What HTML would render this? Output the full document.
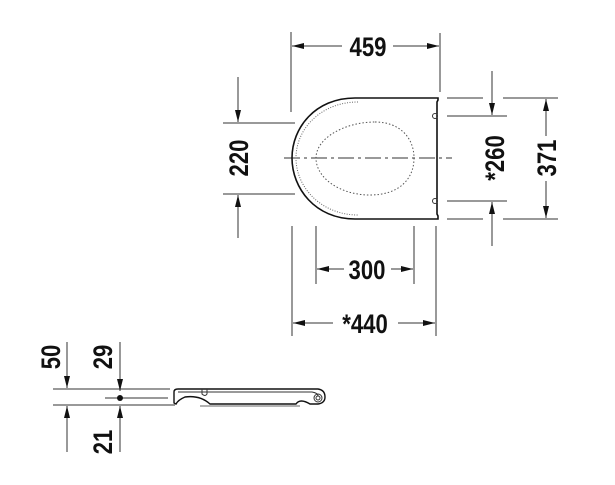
<!DOCTYPE html>
<html><head><meta charset="utf-8"><style>
html,body{margin:0;padding:0;background:#fff}
svg{display:block}
text{font-family:"Liberation Sans",sans-serif;font-weight:bold;font-size:27px;fill:#111}
</style></head><body>
<svg width="615" height="485" viewBox="0 0 615 485" xmlns="http://www.w3.org/2000/svg">
<defs>
<marker id="a" viewBox="0 0 12 6" refX="12" refY="3" markerWidth="12" markerHeight="6" markerUnits="userSpaceOnUse" orient="auto"><path d="M0,0L12,3L0,6z" fill="#111"/></marker>
</defs>
<g stroke="#333" stroke-width="1" fill="none">
<line x1="291" y1="32" x2="291" y2="112"/>
<line x1="440" y1="33" x2="440" y2="92"/>
<line x1="342" y1="46" x2="292" y2="46" marker-end="url(#a)"/>
<line x1="393" y1="46" x2="439" y2="46" marker-end="url(#a)"/>
<line x1="223" y1="123" x2="295" y2="123"/>
<line x1="223" y1="194" x2="295" y2="194"/>
<line x1="238" y1="77" x2="238" y2="122" marker-end="url(#a)"/>
<line x1="238" y1="238" x2="238" y2="195" marker-end="url(#a)"/>
<line x1="447" y1="116" x2="507" y2="116"/>
<line x1="447" y1="201" x2="507" y2="201"/>
<line x1="492" y1="71" x2="492" y2="115" marker-end="url(#a)"/>
<line x1="492" y1="246" x2="492" y2="202" marker-end="url(#a)"/>
<line x1="447" y1="98" x2="483" y2="98"/><line x1="503" y1="98" x2="558" y2="98"/>
<line x1="447" y1="219" x2="483" y2="219"/><line x1="503" y1="219" x2="558" y2="219"/>
<line x1="546" y1="136" x2="546" y2="99" marker-end="url(#a)"/>
<line x1="546" y1="181" x2="546" y2="218" marker-end="url(#a)"/>
<line x1="316" y1="226" x2="316" y2="284"/>
<line x1="414" y1="226" x2="414" y2="284"/>
<line x1="344" y1="269" x2="317" y2="269" marker-end="url(#a)"/>
<line x1="391" y1="269" x2="413" y2="269" marker-end="url(#a)"/>
<line x1="292" y1="226" x2="292" y2="336"/>
<line x1="436" y1="226" x2="436" y2="336"/>
<line x1="333" y1="323" x2="293" y2="323" marker-end="url(#a)"/>
<line x1="398" y1="323" x2="435" y2="323" marker-end="url(#a)"/>
<line x1="284" y1="158" x2="452" y2="158" stroke-dasharray="16,4,3,4"/>
<path d="M438,98 L355,98 C315,98 292,128 292,158 C292,188 315,219 355,219 L438,219 L438,216 L437,214 L437,102 L438,100Z" stroke="#111" stroke-width="1.6"/>
<path d="M358,102 C322,102 296,128 296,158 C296,188 322,215 358,215" stroke="#666" stroke-dasharray="1,1.5"/>
<path d="M375,122 C400,122 414,138 414,158 C414,180 398,195 370,195 C340,195 316,178 316,158 C316,138 345,122 375,122Z" stroke="#555" stroke-dasharray="1.5,2"/>
<circle cx="435" cy="116" r="2.5"/><circle cx="435" cy="201" r="2.5"/>
<line x1="53" y1="389" x2="170" y2="389"/>
<line x1="53" y1="405" x2="175" y2="405"/>
<line x1="105" y1="398" x2="168" y2="398"/>
<line x1="67" y1="342" x2="67" y2="388" marker-end="url(#a)"/>
<line x1="67" y1="452" x2="67" y2="406" marker-end="url(#a)"/>
<line x1="120" y1="342" x2="120" y2="391" marker-end="url(#a)"/>
<line x1="120" y1="452" x2="120" y2="406" marker-end="url(#a)"/>
<path d="M174,403 L174,392 Q174,389 178,389 L318,389 Q325,390 325,397 Q325,403 318,404 L310,404 Q300,398 296,404 L210,404 Q200,395 185,397 Q178,400 176,404Z" stroke="#111" stroke-width="1.4"/>
<path d="M178,392 L312,392 Q318,393 318,396" stroke="#333"/>
<path d="M202,389 L202,394 Q205,397 207,394 L207,389" stroke="#333"/>
<line x1="200" y1="406" x2="300" y2="406" stroke="#666"/>
<circle cx="318" cy="398" r="4" stroke="#333"/>
<circle cx="318" cy="398" r="2" stroke="#333"/>
</g>
<circle cx="120" cy="398" r="3" fill="#111"/>
<text transform="translate(368,56) scale(0.82,1)" text-anchor="middle">459</text>
<text transform="translate(367,279) scale(0.82,1)" text-anchor="middle">300</text>
<text transform="translate(365,333) scale(0.82,1)" text-anchor="middle">*440</text>
<text transform="translate(248,158) rotate(-90) scale(0.82,1)" text-anchor="middle">220</text>
<text transform="translate(504,158) rotate(-90) scale(0.82,1)" text-anchor="middle">*260</text>
<text transform="translate(556,158) rotate(-90) scale(0.82,1)" text-anchor="middle">371</text>
<text transform="translate(60,357) rotate(-90) scale(0.82,1)" text-anchor="middle">50</text>
<text transform="translate(112,357) rotate(-90) scale(0.82,1)" text-anchor="middle">29</text>
<text transform="translate(112,442) rotate(-90) scale(0.82,1)" text-anchor="middle">21</text>
</svg>
</body></html>
